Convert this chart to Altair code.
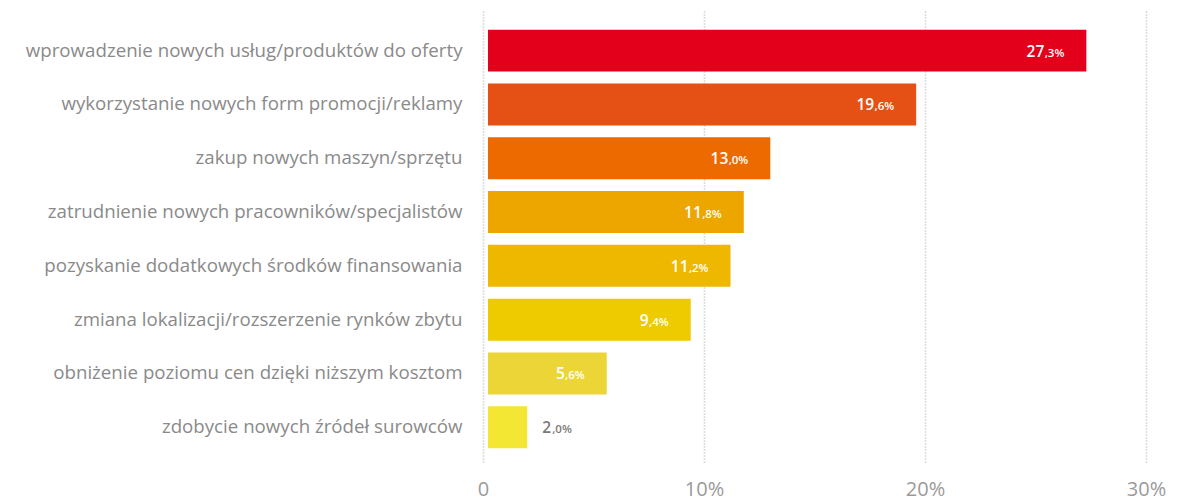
import altair as alt
import pandas as pd

categories = [
    "wprowadzenie nowych usług/produktów do oferty",
    "wykorzystanie nowych form promocji/reklamy",
    "zakup nowych maszyn/sprzętu",
    "zatrudnienie nowych pracowników/specjalistów",
    "pozyskanie dodatkowych środków finansowania",
    "zmiana lokalizacji/rozszerzenie rynków zbytu",
    "obniżenie poziomu cen dzięki niższym kosztom",
    "zdobycie nowych źródeł surowców",
]
values = [27.3, 19.6, 13.0, 11.8, 11.2, 9.4, 5.6, 2.0]
colors = ["#E2001A", "#E55014", "#EC6A00", "#EDA500", "#EEB800", "#EECA00", "#ECD637", "#F3E733"]
inside = [True, True, True, True, True, True, True, False]
x_ticks = [0, 10, 20, 30]


def fmt(v):
    s = f"{v:.1f}"
    a, b = s.split(".")
    return a, "," + b + "%"


df = pd.DataFrame({
    "cat": categories,
    "value": values,
    "inside": inside,
    "ip": [fmt(v)[0] for v in values],
    "dp": [fmt(v)[1] for v in values],
})

FONT = "Open Sans"

y_enc = alt.Y(
    "cat:N",
    sort=categories,
    scale=alt.Scale(paddingInner=0.22, paddingOuter=0.32, align=0.6),
    axis=alt.Axis(
        title=None, ticks=False, domain=False, grid=False, labelFont=FONT, labelFontSize=18.7,
        labelColor="#8a8a8a", labelPadding=21, labelLimit=600,
    ),
)
x_scale = alt.Scale(domain=[0, 30], nice=False)

base = alt.Chart(df)

bars = base.mark_bar(x2Offset=5).encode(
    x=alt.X(
        "value:Q",
        scale=x_scale,
        axis=alt.Axis(
            title=None, values=x_ticks, ticks=False, domain=False,
            labelExpr="datum.value == 0 ? '0' : datum.value + '%'",
            labelFont=FONT, labelFontSize=20, labelColor="#9a9a9a", labelPadding=17,
            labelFlush=False,
            grid=True, gridColor="#bcbcbc", gridDash=[1, 2], gridWidth=1.6,
        ),
    ),
    x2=alt.datum(0),
    y=y_enc,
    color=alt.Color("cat:N", scale=alt.Scale(domain=categories, range=colors), legend=None),
)

ins = base.transform_filter("datum.inside")
outs = base.transform_filter("!datum.inside")

tx = alt.X("value:Q")
ty = alt.Y("cat:N", sort=categories)

in_dec = ins.mark_text(align="right", baseline="alphabetic", dx=-22, dy=6, font=FONT,
                       fontSize=11.5, fontWeight=600, color="white").encode(
    x=tx, y=ty, text="dp:N")
in_int = ins.mark_text(align="right", baseline="alphabetic", dx=-42, dy=6, font=FONT,
                       fontSize=15.5, fontWeight=600, color="white").encode(
    x=tx, y=ty, text="ip:N")

out_int = outs.mark_text(align="left", baseline="alphabetic", dx=15, dy=6, font=FONT,
                         fontSize=15.5, fontWeight=600, color="#7a7a7a").encode(
    x=tx, y=ty, text="ip:N")
out_dec = outs.mark_text(align="left", baseline="alphabetic", dx=25, dy=6, font=FONT,
                         fontSize=11.5, fontWeight=600, color="#7a7a7a").encode(
    x=tx, y=ty, text="dp:N")

chart = alt.layer(bars, in_dec, in_int, out_int, out_dec).properties(
    width=663, height=453,
    background="white",
    autosize=alt.AutoSizeParams(type="none"),
    padding={"left": 475, "top": 1, "right": 30, "bottom": 35},
).configure_view(stroke="transparent", strokeWidth=0).configure_axis(domain=False)

chart.save("out.html", embed_options={"renderer": "svg", "actions": False})
